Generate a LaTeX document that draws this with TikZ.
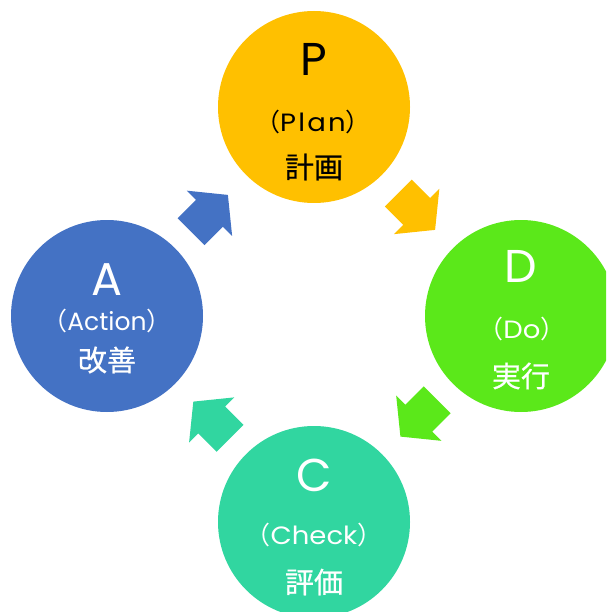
\documentclass[tikz,border=0pt]{standalone}
\usepackage{fontspec}
\setmainfont{Poppins}
\newfontfamily\jp[FakeBold=0.6]{Noto Sans CJK JP}
\newfontfamily\jpp{Noto Sans CJK JP}
\newfontfamily\midlat[FakeStretch=1.1]{Poppins}
\newfontfamily\midwide[FakeStretch=1.1,LetterSpace=9]{Poppins}
\newfontfamily\midnarrow{Poppins}
\definecolor{cP}{RGB}{255,192,0}
\definecolor{cD}{RGB}{91,232,26}
\definecolor{cC}{RGB}{49,214,160}
\definecolor{cA}{RGB}{68,114,196}
\tikzset{
  circ/.style={circle, minimum size=192pt, inner sep=0pt, draw=none},
  big/.style={font=\fontsize{46}{46}\selectfont, inner sep=0pt},
  mid/.style={font=\midlat\fontsize{25}{25}\selectfont, inner sep=0pt},
  kan/.style={font=\jp\fontsize{29}{29}\selectfont, inner sep=0pt},
  blockarrow/.pic={\path[pic actions] (-26,-19) -- (0,-19) -- (0,-32) -- (26,0) -- (0,32) -- (0,19) -- (-26,19) -- cycle;}
}
\newcommand{\lp}{{\jpp （}}
\newcommand{\rp}{{\jpp ）}}
\begin{document}
\begin{tikzpicture}[x=1pt,y=-1pt]
\useasboundingbox (0,0) rectangle (606,612);
\clip (0,0) rectangle (606,612);
% circles
\node[circ, fill=cP] (P) at (314,107) {};
\node[circ, fill=cD] (D) at (521,316) {};
\node[circ, fill=cC] (C) at (314,522) {};
\node[circ, fill=cA] (A) at (107,316) {};
% texts P
\node[big, text=black] (P1) at (314,59) {P};
\node[mid, text=black] (P2) at (313,122) {\lp{\midwide Plan}\rp};
\node[kan, text=black] (P3) at (314,167) {計画};
% texts D
\node[big, text=white] (D1) at (521,266) {D};
\node[mid, text=white] (D2) at (522,329) {\lp Do\rp};
\node[kan, text=white] (D3) at (521,376) {実行};
% texts C
\node[big, text=white] (C1) at (314,475) {C};
\node[mid, text=white] (C2) at (314,535) {\lp Check\rp};
\node[kan, text=white] (C3) at (314,582) {評価};
% texts A
\node[big, text=white] (A1) at (107,280) {A};
\node[mid, text=white] (A2) at (107,321) {\lp{\midnarrow Action}\rp};
\node[kan, text=white] (A3) at (107,360) {改善};
% arrows
\pic[fill=cA, rotate=45] (arrAP) at (209.5,213.3) {blockarrow};
\pic[fill=cP, rotate=-45] (arrPD) at (416.7,211.5) {blockarrow};
\pic[fill=cD, rotate=-135] (arrDC) at (418.8,418.2) {blockarrow};
\pic[fill=cC, rotate=135] (arrCA) at (211.7,420) {blockarrow};
\end{tikzpicture}
\end{document}
